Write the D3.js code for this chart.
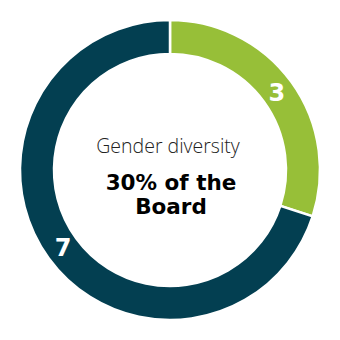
<!DOCTYPE html>
<html>
<head>
<meta charset="utf-8">
<script src="https://cdn.jsdelivr.net/npm/d3@7"></script>
<style>
  html, body { margin: 0; padding: 0; background: #fff; }
</style>
</head>
<body>
<svg id="chart" width="340" height="340"></svg>
<script>
const categories = ['Women', 'Men'];
const values = [3, 7];
const colours = ['#97bf38', '#033f51'];
const title = 'Gender diversity';
const subtitle = ['30% of the', 'Board'];

const svg = d3.select('#chart');
const g = svg.append('g').attr('transform', 'translate(170,170)');

const pie = d3.pie().sort(null).value(d => d.value);
const arcs = pie(categories.map((c, i) => ({ name: c, value: values[i] })));

const arc = d3.arc().innerRadius(116).outerRadius(150);
const labelArc = d3.arc().innerRadius(132).outerRadius(132);

g.selectAll('path.slice')
    .data(arcs)
    .enter().append('path')
    .attr('class', 'slice')
    .attr('d', arc)
    .attr('fill', (d, i) => colours[i])
    .attr('stroke', '#fff')
    .attr('stroke-width', 2.5);

g.selectAll('text.val')
    .data(arcs)
    .enter().append('text')
    .attr('class', 'val')
    .attr('transform', d => 'translate(' + labelArc.centroid(d) + ')')
    .attr('text-anchor', 'middle')
    .attr('dy', '0.36em')
    .style('font-family', '"DejaVu Sans", Verdana, sans-serif')
    .style('font-weight', 'bold')
    .style('font-size', '24px')
    .attr('fill', '#fff')
    .text(d => d.data.value);

g.append('text')
    .attr('x', -2)
    .attr('y', -17)
    .attr('text-anchor', 'middle')
    .style('font-family', '"Open Sans", sans-serif')
    .style('font-weight', 300)
    .style('font-size', '19.5px')
    .attr('fill', '#222')
    .text(title);

g.selectAll('text.sub')
    .data(subtitle)
    .enter().append('text')
    .attr('class', 'sub')
    .attr('x', 1)
    .attr('y', (d, i) => 20 + i * 24)
    .attr('text-anchor', 'middle')
    .style('font-family', '"DejaVu Sans", Verdana, sans-serif')
    .style('font-weight', 'bold')
    .style('font-size', '21.5px')
    .attr('fill', '#000')
    .text(d => d);
</script>
</body>
</html>
